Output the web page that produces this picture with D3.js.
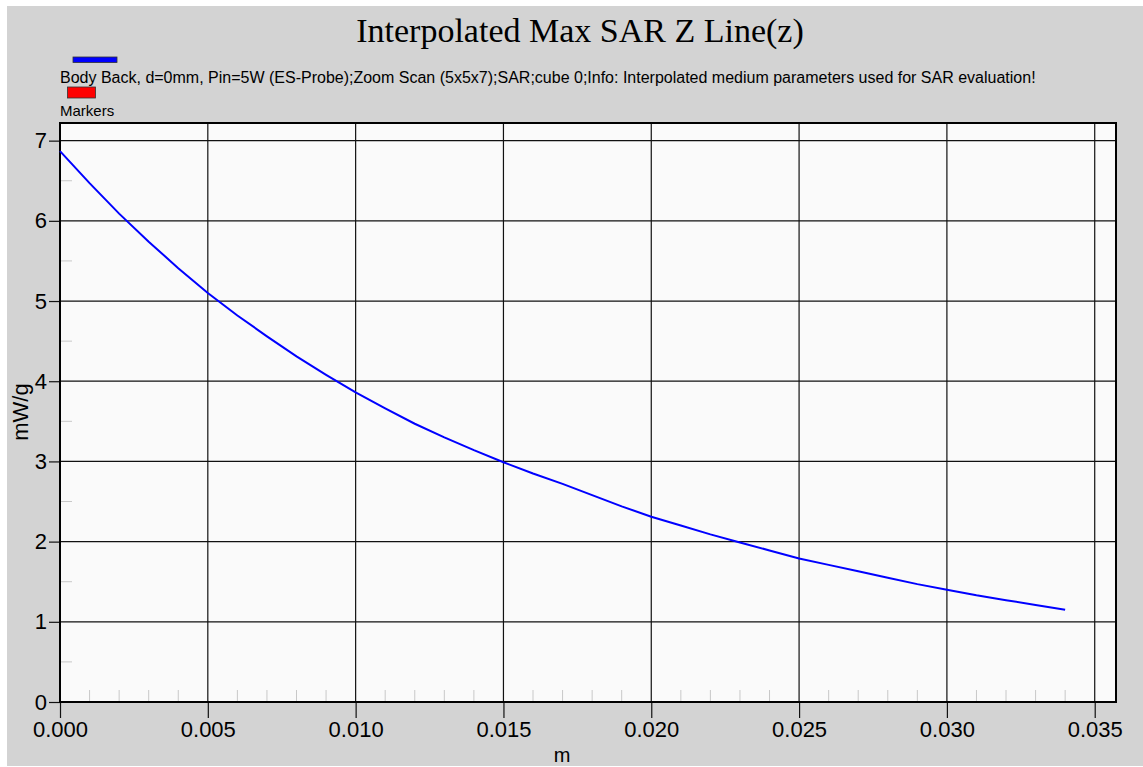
<!DOCTYPE html>
<html><head><meta charset="utf-8">
<script src="https://cdn.jsdelivr.net/npm/d3@7"></script>
<style>html,body{margin:0;padding:0;background:#fff;}svg{display:block;}</style>
</head><body>
<script>
const title = "Interpolated Max SAR Z Line(z)";
const legendLabels = ["Body Back, d=0mm, Pin=5W (ES-Probe);Zoom Scan (5x5x7);SAR;cube 0;Info: Interpolated medium parameters used for SAR evaluation!", "Markers"];
const legendColors = ["#0000ff", "#ff0000"];
const xLabel = "m";
const yLabel = "mW/g";
const xTicks = [0, 0.005, 0.010, 0.015, 0.020, 0.025, 0.030, 0.035];
const yTicks = [0, 1, 2, 3, 4, 5, 6, 7];
const zPos = [0,0.001,0.002,0.003,0.004,0.005,0.006,0.007,0.008,0.009,0.010,0.011,0.012,0.013,0.014,0.015,0.016,0.017,0.018,0.019,0.020,0.021,0.022,0.023,0.024,0.025,0.026,0.027,0.028,0.029,0.030,0.031,0.032,0.033,0.034];
const sarVal = [6.87,6.47,6.09,5.74,5.41,5.10,4.82,4.56,4.31,4.08,3.86,3.66,3.47,3.30,3.14,2.99,2.85,2.72,2.58,2.44,2.31,2.20,2.09,1.99,1.89,1.79,1.71,1.63,1.55,1.47,1.40,1.33,1.27,1.21,1.15];

const W = 1143, H = 767;
const L = 60, R = 1116, T = 123, B = 702;
const svg = d3.select("body").append("svg").attr("width", W).attr("height", H);
svg.append("rect").attr("x", 7).attr("y", 6).attr("width", W - 7).attr("height", 760).attr("fill", "#d3d3d3");

const x = d3.scaleLinear().domain([0, 0.03572]).range([L, R]);
const y = d3.scaleLinear().domain([0, 7.22]).range([B, T]);

svg.append("rect").attr("x", L).attr("y", T).attr("width", R - L).attr("height", B - T).attr("fill", "#fafafa");

// minor ticks
function notMajor(v){ return Math.round(v*1000) % 5 !== 0; }
const xMinor = d3.range(1, 36).map(i => i * 0.001).filter(v => notMajor(v) && x(v) < R);
svg.append("g").selectAll("line").data(xMinor).join("line")
  .attr("x1", d => x(d)).attr("x2", d => x(d)).attr("y1", B).attr("y2", B - 12)
  .attr("stroke", "#c8c8c8").attr("stroke-width", 1);
const yMinor = d3.range(0, 7).map(i => i + 0.5);
svg.append("g").selectAll("line").data(yMinor).join("line")
  .attr("x1", L).attr("x2", L + 12).attr("y1", d => y(d)).attr("y2", d => y(d))
  .attr("stroke", "#c8c8c8").attr("stroke-width", 1);

// grid
svg.append("g").selectAll("line").data(xTicks.filter(v => v > 0)).join("line")
  .attr("x1", d => x(d)).attr("x2", d => x(d)).attr("y1", T).attr("y2", B)
  .attr("stroke", "#111").attr("stroke-width", 1.2);
svg.append("g").selectAll("line").data(yTicks.filter(v => v > 0)).join("line")
  .attr("x1", L).attr("x2", R).attr("y1", d => y(d)).attr("y2", d => y(d))
  .attr("stroke", "#111").attr("stroke-width", 1.2);

// axes
const fmt = d3.format(".3f");
const xAxis = svg.append("g").attr("transform", `translate(0,${B})`)
  .call(d3.axisBottom(x).tickValues(xTicks).tickFormat(fmt).tickSize(16).tickPadding(3));
const yAxis = svg.append("g").attr("transform", `translate(${L},0)`)
  .call(d3.axisLeft(y).tickValues(yTicks).tickFormat(d3.format("d")).tickSize(11).tickPadding(2));
[xAxis, yAxis].forEach(g => {
  g.select(".domain").remove();
  g.selectAll(".tick line").attr("stroke", "#111").attr("stroke-width", 1.2);
  g.selectAll("text").attr("fill", "#000").style("font-family", "Arial, 'Liberation Sans', sans-serif").style("font-size", "22px");
});

// border
svg.append("rect").attr("x", L).attr("y", T).attr("width", R - L).attr("height", B - T)
  .attr("fill", "none").attr("stroke", "#000").attr("stroke-width", 2);

// line
const line = d3.line().x((d, i) => x(zPos[i])).y(d => y(d));
svg.append("path").datum(sarVal).attr("d", line).attr("fill", "none")
  .attr("stroke", "#0000ff").attr("stroke-width", 2);

// title
svg.append("text").attr("x", 580).attr("y", 42).attr("text-anchor", "middle")
  .style("font-family", "'Liberation Serif', 'Times New Roman', serif").style("font-size", "34px").text(title);

// legend
svg.append("rect").attr("x", 73).attr("y", 57).attr("width", 44).attr("height", 5.5)
  .attr("fill", legendColors[0]).attr("stroke", "#333").attr("stroke-width", 0.8);
svg.append("text").attr("x", 60).attr("y", 82.5)
  .style("font-family", "Arial, 'Liberation Sans', sans-serif").style("font-size", "16px").text(legendLabels[0]);
svg.append("rect").attr("x", 67.5).attr("y", 87).attr("width", 28).attr("height", 11)
  .attr("fill", legendColors[1]).attr("stroke", "#333").attr("stroke-width", 0.8);
svg.append("text").attr("x", 60).attr("y", 116)
  .style("font-family", "Arial, 'Liberation Sans', sans-serif").style("font-size", "15px").text(legendLabels[1]);

// axis labels
svg.append("text").attr("x", 562).attr("y", 762).attr("text-anchor", "middle")
  .style("font-family", "Arial, 'Liberation Sans', sans-serif").style("font-size", "20px").text(xLabel);
svg.append("text").attr("transform", "translate(28,412) rotate(-90)").attr("text-anchor", "middle")
  .style("font-family", "Arial, 'Liberation Sans', sans-serif").style("font-size", "22px").text(yLabel);
</script>
</body></html>
